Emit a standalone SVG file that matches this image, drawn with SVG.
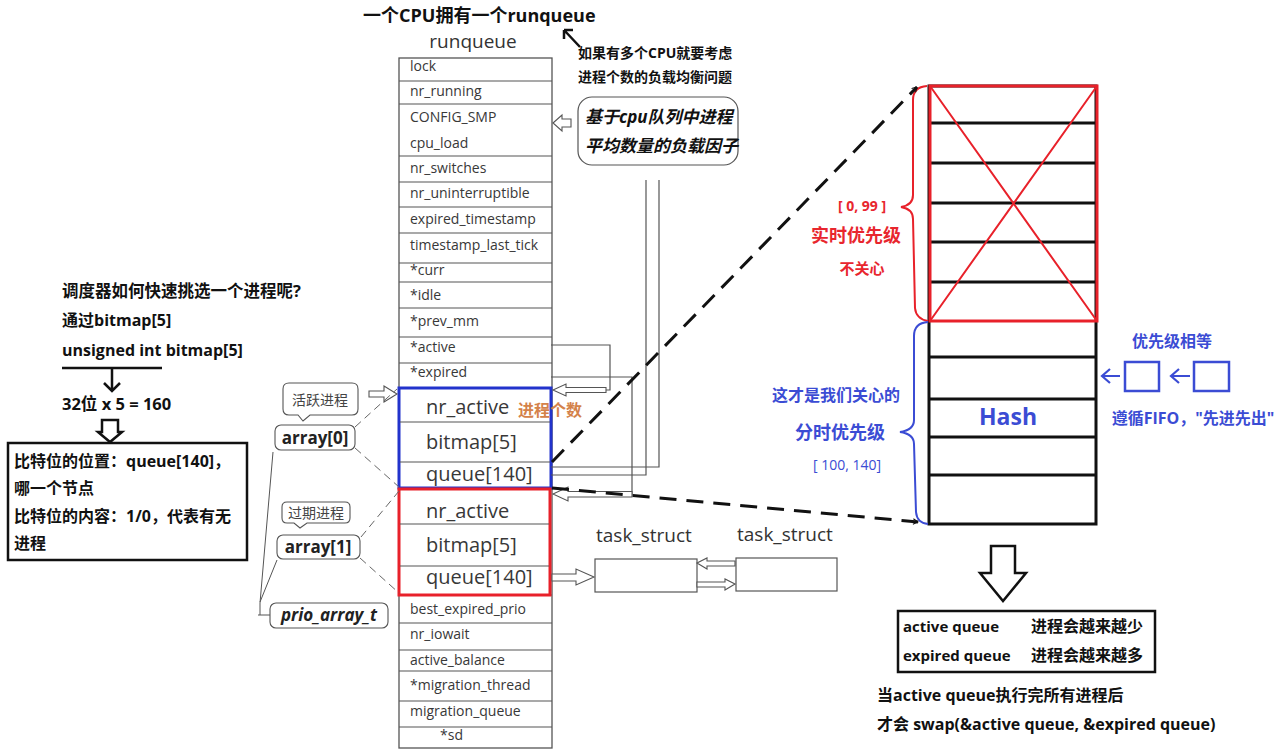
<svg xmlns="http://www.w3.org/2000/svg" width="1288" height="755" viewBox="0 0 1288 755">
<style>
.rq{font-family:"Open Sans","Liberation Sans",sans-serif;font-size:14px;fill:#383838}
.rqb{font-family:"Open Sans","Liberation Sans",sans-serif;font-size:20px;fill:#383838}
.bk{font-family:"Open Sans","Noto Sans CJK SC",sans-serif;font-weight:bold;fill:#111}
.gl{stroke:#555;stroke-width:1.2;fill:none}
.ha{stroke:#555;stroke-width:1.1;fill:#fff}
.dash{stroke:#111;stroke-width:3;fill:none;stroke-dasharray:17 10}
.bl{fill:#3b4cd4;font-family:"Open Sans","Noto Sans CJK SC",sans-serif;font-weight:bold}
.rd{fill:#e8262e;font-family:"Open Sans","Noto Sans CJK SC",sans-serif;font-weight:bold}
.bub{stroke:#555;stroke-width:1.1;fill:#fff}
</style>
<defs>
<marker id="chev" viewBox="0 0 20 20" refX="18" refY="10" markerWidth="7" markerHeight="7" orient="auto" markerUnits="userSpaceOnUse">
<path d="M4,2 L18,10 L4,18" fill="none" stroke="#111" stroke-width="3"/>
</marker>
</defs>
<rect width="1288" height="755" fill="#fff"/>

<g id="title">
<text x="363" y="22" class="bk" font-size="18">一个CPU拥有一个runqueue</text>
<text x="578" y="58" class="bk" font-size="14">如果有多个CPU就要考虑</text>
<text x="578" y="82" class="bk" font-size="14">进程个数的负载均衡问题</text>
</g>

<g id="runqueue">
<text x="473" y="48" text-anchor="middle" font-family="Open Sans, Liberation Sans, sans-serif" font-size="19" fill="#333">runqueue</text>
<rect x="399" y="58" width="153" height="690" fill="#fff" stroke="#555" stroke-width="1.3"/>
<path class="gl" d="M399,81H552 M399,104H552 M399,156H552 M399,182H552 M399,207H552 M399,233H552 M399,263H552 M399,282H552 M399,308H552 M399,337H552 M399,363H552 M399,595H552 M399,623H552 M399,650H552 M399,671H552 M399,701H552 M399,727H552"/>
<text x="410" y="71" class="rq">lock</text>
<text x="410" y="96" class="rq">nr_running</text>
<text x="410" y="122" class="rq">CONFIG_SMP</text>
<text x="410" y="148" class="rq">cpu_load</text>
<text x="410" y="173" class="rq">nr_switches</text>
<text x="410" y="198" class="rq">nr_uninterruptible</text>
<text x="410" y="224" class="rq">expired_timestamp</text>
<text x="410" y="250" class="rq">timestamp_last_tick</text>
<text x="410" y="275" class="rq">*curr</text>
<text x="410" y="300" class="rq">*idle</text>
<text x="410" y="326" class="rq">*prev_mm</text>
<text x="410" y="352" class="rq">*active</text>
<text x="410" y="377" class="rq">*expired</text>
<text x="410" y="614" class="rq">best_expired_prio</text>
<text x="410" y="639" class="rq">nr_iowait</text>
<text x="410" y="665" class="rq">active_balance</text>
<text x="410" y="690" class="rq">*migration_thread</text>
<text x="410" y="716" class="rq">migration_queue</text>
<text x="440" y="740" class="rq">*sd</text>
</g>

<g id="active-array">
<rect x="399" y="388" width="152" height="100" fill="#fff" stroke="#2233cc" stroke-width="3"/>
<path class="gl" d="M400,422H550 M400,462H550"/>
<text x="426" y="414" class="rqb">nr_active</text>
<text x="426" y="449" class="rqb">bitmap[5]</text>
<text x="426" y="481" class="rqb">queue[140]</text>
<text x="518" y="416" class="bk" font-size="16" style="fill:#d4824a">进程个数</text>
</g>

<g id="expired-array">
<rect x="399" y="489" width="151" height="106" fill="#fff" stroke="#e8212a" stroke-width="3"/>
<path class="gl" d="M400,524H549 M400,566H549"/>
<text x="426" y="518" class="rqb">nr_active</text>
<text x="426" y="552" class="rqb">bitmap[5]</text>
<text x="426" y="584" class="rqb">queue[140]</text>
</g>

<g id="load-bubble">
<rect x="578" y="97" width="160" height="68" rx="14" fill="#fff" stroke="#555" stroke-width="1.2"/>
<text x="585" y="123" class="bk" font-size="17" font-style="italic">基于cpu队列中进程</text>
<text x="585" y="152" class="bk" font-size="17" font-style="italic">平均数量的负载因子</text>
</g>

<g id="tasks">
<text x="596" y="542" font-family="Open Sans, Liberation Sans, sans-serif" font-size="19" fill="#333">task_struct</text>
<text x="737" y="541" font-family="Open Sans, Liberation Sans, sans-serif" font-size="19" fill="#333">task_struct</text>
<rect x="595" y="559" width="102" height="33" fill="#fff" stroke="#555" stroke-width="1.2"/>
<rect x="736" y="558" width="101" height="33" fill="#fff" stroke="#555" stroke-width="1.2"/>
</g>

<g id="left-notes">
<text x="62" y="297" class="bk" font-size="16.5">调度器如何快速挑选一个进程呢?</text>
<text x="62" y="326" class="bk" font-size="16">通过bitmap[5]</text>
<text x="62" y="356" class="bk" font-size="16">unsigned int bitmap[5]</text>
<text x="62" y="410" class="bk" font-size="16.5">32位 x 5 = 160</text>
<rect x="8" y="443" width="239" height="117" fill="#fff" stroke="#111" stroke-width="2.5"/>
<text x="14" y="467" class="bk" font-size="16">比特位的位置：queue[140]，</text>
<text x="14" y="494" class="bk" font-size="16">哪一个节点</text>
<text x="14" y="522" class="bk" font-size="16">比特位的内容：1/0，代表有无</text>
<text x="14" y="549" class="bk" font-size="16">进程</text>
</g>

<g id="array-labels">
<path class="bub" d="M289,383H352Q358,383 358,389V409Q358,415 352,415H310L303,421L298,415H289Q283,415 283,409V389Q283,383 289,383Z"/>
<text x="320" y="405" text-anchor="middle" font-family="Noto Sans CJK SC, sans-serif" font-size="14" fill="#444">活跃进程</text>
<rect x="275" y="425" width="80" height="25" rx="6" class="bub"/>
<text x="315" y="444" text-anchor="middle" class="bk" font-size="17" style="fill:#222">array[0]</text>
<path class="bub" d="M287,502H345Q350,502 350,507V518Q350,523 345,523H307L300,528L294,523H287Q282,523 282,518V507Q282,502 287,502Z"/>
<text x="316" y="518" text-anchor="middle" font-family="Noto Sans CJK SC, sans-serif" font-size="14" fill="#444">过期进程</text>
<rect x="277" y="535" width="83" height="24" rx="6" class="bub"/>
<text x="318" y="553" text-anchor="middle" class="bk" font-size="17" style="fill:#222">array[1]</text>
<rect x="270" y="603" width="118" height="25" rx="6" class="bub"/>
<text x="329" y="621" text-anchor="middle" class="bk" font-size="17" font-style="italic" style="fill:#222">prio_array_t</text>
</g>

<g id="priority-table">
<rect x="929" y="86" width="167" height="438" fill="#fff" stroke="#111" stroke-width="3"/>
<path d="M929,123H1096 M929,163H1096 M929,203H1096 M929,242H1096 M929,282H1096 M929,357H1096 M929,399H1096 M929,437H1096 M929,475H1096" stroke="#111" stroke-width="3" fill="none"/>
<rect x="930" y="86" width="167" height="235" fill="none" stroke="#e8212a" stroke-width="3"/>
<path d="M930,86L1097,321 M1097,86L930,321" stroke="#e8212a" stroke-width="2" fill="none"/>
<text x="1008" y="425" text-anchor="middle" class="bl" font-size="23">Hash</text>
</g>

<g id="realtime-label">
<path d="M927,86Q913,87 913,100L913,195Q913,205 901,207Q913,209 913,219L915,308Q916,319 928,321" stroke="#e8212a" stroke-width="2" fill="none"/>
<text x="862" y="211" text-anchor="middle" class="rd" font-size="14">[ 0, 99 ]</text>
<text x="856" y="242" text-anchor="middle" class="rd" font-size="18">实时优先级</text>
<text x="862" y="274" text-anchor="middle" class="rd" font-size="15">不关心</text>
</g>

<g id="timeshare-label">
<path d="M928,322Q914,323 914,336L914,420Q914,430 900,432Q914,434 914,444L916,512Q917,523 928,524" stroke="#3b4cd4" stroke-width="2" fill="none"/>
<text x="836" y="401" text-anchor="middle" class="bl" font-size="16">这才是我们关心的</text>
<text x="840" y="439" text-anchor="middle" class="bl" font-size="18">分时优先级</text>
<text x="847" y="470" text-anchor="middle" font-family="Open Sans, Liberation Sans, sans-serif" font-size="14" fill="#3b4cd4">[ 100, 140]</text>
</g>

<g id="fifo">
<text x="1172" y="347" text-anchor="middle" class="bl" font-size="16">优先级相等</text>
<rect x="1125" y="362" width="34" height="29" fill="none" stroke="#3b4cd4" stroke-width="2.5"/>
<rect x="1194" y="362" width="35" height="29" fill="none" stroke="#3b4cd4" stroke-width="2.5"/>
<path d="M1102,376H1120 M1110,369L1102,376L1110,383 M1171,376H1190 M1179,369L1171,376L1179,383" stroke="#3b4cd4" stroke-width="2.2" fill="none"/>
<text x="1193" y="424" text-anchor="middle" class="bl" font-size="16">遵循FIFO，"先进先出"</text>
</g>

<g id="swap-notes">
<path d="M991,546H1015V573H1026L1003,601L980,573H991Z" fill="#fff" stroke="#111" stroke-width="2.5"/>
<rect x="898" y="611" width="257" height="61" fill="#fff" stroke="#111" stroke-width="2.5"/>
<text x="903" y="632" class="bk" font-size="15">active queue</text>
<text x="1031" y="632" class="bk" font-size="16">进程会越来越少</text>
<text x="903" y="661" class="bk" font-size="15">expired queue</text>
<text x="1031" y="661" class="bk" font-size="16">进程会越来越多</text>
<text x="877" y="701" class="bk" font-size="16">当active queue执行完所有进程后</text>
<text x="877" y="730" class="bk" font-size="16">才会 swap(&amp;active queue, &amp;expired queue)</text>
</g>

<g id="connectors">
<path d="M580,47L564,30 M564,30L564,39 M564,30L573,30" stroke="#111" stroke-width="2.5" fill="none"/>
<path class="ha" d="M553,123L562,115V119H571V127H562V131Z"/>
<path class="gl" d="M646,180V475H551 M659,180V467H551"/>
<path class="gl" d="M551,345H610V390H566"/>
<path class="ha" d="M553,390L566,384V387.5H606V392.5H566V396Z"/>
<path class="gl" d="M551,377H632V495H568"/>
<path class="ha" d="M553,494L568,487V491.5H632V497H568V501Z"/>
<path class="ha" d="M552,574H576V569L594,577L576,585V581H552Z"/>
<path class="ha" d="M697,563L707,558V561H735V566H707V569Z"/>
<path class="ha" d="M735,584L725,579V582H697V587H725V590Z"/>
<path d="M62,368H162 M112,368V391 M104,383L112,391L120,383" stroke="#111" stroke-width="2.5" fill="none"/>
<path d="M102,420H118V432H122L110,442L98,432H102Z" fill="#fff" stroke="#111" stroke-width="2.5"/>
<path class="ha" d="M369,391H384V386L397,394L384,402V397H369Z"/>
<path d="M355,427L397,389 M355,448L399,487 M361,537L399,491 M360,558L399,593" stroke="#666" stroke-width="1" stroke-dasharray="8 5" fill="none"/>
<path d="M273,452L260,603 M277,560L260,602 M260,603V615 M258,615H270" stroke="#555" stroke-width="1" fill="none"/>
<path class="dash" d="M552,462L917,87" marker-end="url(#chev)"/>
<path class="dash" d="M552,488L918,522" marker-end="url(#chev)"/>
</g>
</svg>
